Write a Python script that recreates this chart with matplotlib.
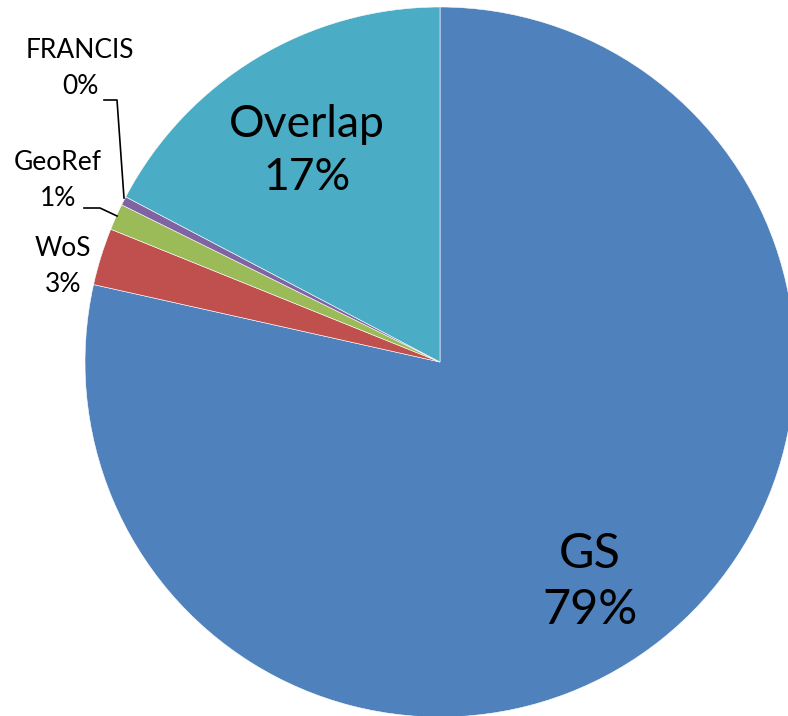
import matplotlib
matplotlib.use("Agg")
import matplotlib.pyplot as plt

categories = ["GS", "WoS", "GeoRef", "FRANCIS", "Overlap"]
values = [78.5, 2.6, 1.2, 0.4, 17.3]
pct_labels = ["79%", "3%", "1%", "0%", "17%"]
colors = ["#4F81BD", "#C0504D", "#9BBB59", "#8064A2", "#4BACC6"]

plt.rcParams['font.family'] = ['Lato', 'DejaVu Sans']

fig = plt.figure(figsize=(7.88, 7.16), dpi=100)
ax = fig.add_axes([0, 0, 1, 1])

cx, cy, r = 440, 716 - 362, 355
ax.pie(values, colors=colors, startangle=90, counterclock=False,
       center=(cx, cy), radius=r, frame=True,
       wedgeprops=dict(edgecolor='white', linewidth=0.4))
ax.set_xlim(0, 788)
ax.set_ylim(0, 716)
ax.set_aspect('equal')
ax.axis('off')

def lbl(x, y, i, size, ls):
    ax.text(x, 716 - y, f"{categories[i]}\n{pct_labels[i]}", ha='center', va='center',
            fontsize=size, linespacing=ls, color='black')

lbl(590, 582, 0, 35, 1.35)
lbl(307, 151, 4, 32, 1.35)
lbl(63, 266, 1, 19, 1.55)
lbl(58, 181, 2, 19, 1.55)
lbl(80, 69, 3, 19, 1.55)

# leader lines
ax.plot([124, 117, 104], [716 - 198, 716 - 100, 716 - 100], color='black', lw=1.2)
ax.plot([117, 100, 84], [716 - 216, 716 - 208, 716 - 208], color='black', lw=1.2)

fig.savefig("out.png", dpi=100)
